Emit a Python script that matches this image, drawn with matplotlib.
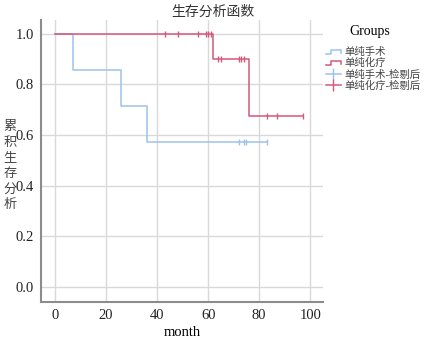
import numpy as np
import matplotlib
matplotlib.use("Agg")
import matplotlib.pyplot as plt
from matplotlib.lines import Line2D
from matplotlib.legend_handler import HandlerBase

plt.rcParams['font.family'] = ['Liberation Serif', 'Noto Sans CJK SC']

# survival data (month, 1 = event, 0 = censored)
surg_time = [7, 26, 36, 72, 74, 75, 83]
surg_event = [1, 1, 1, 0, 0, 0, 0]
chemo_time = [43, 48, 56, 59, 60, 61, 62, 64, 65, 72, 73, 74, 76, 83, 87, 97]
chemo_event = [0, 0, 0, 0, 0, 0, 1, 0, 0, 0, 0, 0, 1, 0, 0, 0]

group_names = ['单纯手术', '单纯化疗', '单纯手术-检剔后', '单纯化疗-检剔后']
blue = '#9dc2ea'
red = '#d4587a'


def km(times, events):
    times = np.array(times, dtype=float)
    events = np.array(events)
    xs, ys = [0.0], [1.0]
    s = 1.0
    cx, cy = [], []
    n = len(times)
    for t in np.unique(times):
        d = events[times == t].sum()
        c = ((times == t) & (events == 0)).sum()
        if d > 0:
            s = s * (1 - d / n)
            xs.append(t)
            ys.append(s)
        if c > 0:
            cx += [t] * c
            cy += [s] * c
        n -= (times == t).sum()
    xs.append(times.max())
    ys.append(s)
    return xs, ys, cx, cy


class StepHandler(HandlerBase):
    # little step icon for the curve entries
    def create_artists(self, legend, orig, xd, yd, w, h, fontsize, trans):
        x = [0, 0.3 * w, 0.3 * w, w, w]
        y = [0.15 * h, 0.15 * h, 0.75 * h, 0.75 * h, 0.35 * h]
        ln = Line2D(np.array(x) - xd, np.array(y) - yd, color=orig.get_color(),
                    lw=orig.get_linewidth())
        ln.set_transform(trans)
        return [ln]


fig = plt.figure(figsize=(4.25, 3.4), dpi=100)
ax = fig.add_axes([41 / 425, 38 / 340, 282 / 425, 282 / 340])

for t, e, col in [(surg_time, surg_event, blue), (chemo_time, chemo_event, red)]:
    xs, ys, cx, cy = km(t, e)
    ax.step(xs, ys, where='post', color=col, lw=1.1, zorder=3)
    ax.plot(cx, cy, ls='none', marker='|', ms=5, mew=1.0, color=col, zorder=4)

ax.set_xlim(-5.5, 105)
ax.set_ylim(-0.06, 1.055)
ax.set_xticks([0, 20, 40, 60, 80, 100])
ax.set_yticks([0.0, 0.2, 0.4, 0.6, 0.8, 1.0])
ax.set_yticklabels(['0.0', '0.2', '0.4', '0.6', '0.8', '1.0'])
ax.grid(True, color='#d9d9d9', lw=1.0)
ax.set_axisbelow(True)
for s in ['top', 'right']:
    ax.spines[s].set_visible(False)
for s in ['left', 'bottom']:
    ax.spines[s].set_color('#8c8c8c')
    ax.spines[s].set_linewidth(1.5)
ax.tick_params(length=0, labelsize=10.5, colors='#222222', pad=5)

ax.set_xlabel('month', fontsize=10.5, labelpad=3)
fig.text(0.5, 1 - 12 / 340, '生存分析函数', ha='center', va='center',
         fontsize=10, color='#333333')

# stacked y label, one character per line
for i, ch in enumerate('累积生存分析'):
    fig.text(10 / 425, 1 - (127 + i * 15.6) / 340, ch, ha='center', va='center',
             fontsize=9.5, color='#444444')

handles = [
    Line2D([0], [0], color=blue, lw=1.1),
    Line2D([0], [0], color=red, lw=1.1),
    Line2D([0], [0], color=blue, lw=1.1, marker='|', ms=8),
    Line2D([0], [0], color=red, lw=1.1, marker='|', ms=8),
]
fig.text(370 / 425, 1 - 31 / 340, 'Groups', ha='center', va='center', fontsize=10)
leg = fig.legend(handles, group_names, loc='upper left',
                 bbox_to_anchor=(322 / 425, 1 - 43 / 340), frameon=False,
                 fontsize=7.5, handlelength=1.4, handletextpad=0.4,
                 labelspacing=0.1, borderaxespad=0,
                 handler_map={handles[0]: StepHandler(), handles[1]: StepHandler()})
for txt in leg.get_texts():
    txt.set_color('#444444')

fig.savefig('out.png', dpi=100)
